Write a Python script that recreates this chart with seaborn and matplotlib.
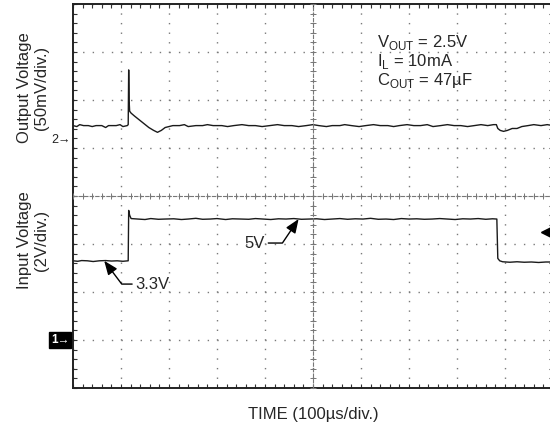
import matplotlib.pyplot as plt
import matplotlib.ticker as mticker
import seaborn as sns
import pandas as pd

# scope settings
vin_scale = 2.0      # V/div
vout_scale = 50.0    # mV/div
ch1_ground = 1.0     # div from bottom
ch2_ground = 5.1667  # div from bottom
trigger_level = 4.5  # V

# input voltage trace (time in us, volts)
vin_t = [0, 10, 18, 30, 42, 55, 68, 80, 92, 104, 115, 116, 118, 121, 135, 150,
         162, 178, 192, 210, 226, 240, 256, 270, 286, 300, 318, 332, 350, 366,
         380, 396, 412, 428, 444, 460, 476, 492, 508, 524, 540, 556, 572, 588,
         604, 620, 636, 652, 668, 684, 700, 716, 732, 748, 764, 780, 796, 812,
         828, 844, 860, 874, 883, 885, 889, 895, 910, 925, 940, 955, 970, 985, 1000]
vin_v = [3.30, 3.28, 3.31, 3.30, 3.27, 3.30, 3.31, 3.29, 3.30, 3.28, 3.30, 5.40,
         5.20, 5.06, 5.04, 5.02, 5.06, 5.03, 5.04, 5.05, 5.02, 5.04, 5.07, 5.03,
         5.04, 5.06, 5.02, 5.05, 5.04, 5.03, 5.06, 5.04, 5.02, 5.05, 5.04, 5.06,
         5.03, 5.04, 5.05, 5.02, 5.04, 5.06, 5.03, 5.05, 5.04, 5.07, 5.03, 5.04,
         5.02, 5.06, 5.04, 5.05, 5.03, 5.04, 5.06, 5.04, 5.02, 5.05, 5.04, 5.06,
         5.03, 5.05, 5.04, 3.40, 3.30, 3.26, 3.24, 3.26, 3.24, 3.25, 3.23, 3.25, 3.25]

# output voltage trace (time in us, mV above ch2 marker)
vout_t = [0, 8, 14, 22, 32, 40, 48, 60, 68, 74, 90, 98, 104, 113, 115, 116, 117,
          118, 121, 128, 138, 148, 158, 168, 176, 184, 192, 200, 208, 222, 232,
          240, 256, 270, 280, 292, 310, 322, 335, 352, 366, 380, 394, 410, 426,
          440, 456, 470, 486, 500, 512, 528, 540, 556, 566, 580, 596, 610, 626,
          640, 656, 668, 680, 696, 710, 724, 738, 750, 766, 780, 794, 808, 822,
          836, 850, 864, 876, 882, 885, 890, 897, 905, 915, 925, 935, 948, 960,
          975, 988, 1000]
vout_mv = [15, 14, 16, 15, 15, 14, 15, 15, 13, 15, 15, 16, 14, 15, 16, 73, 40,
           30, 28, 25, 21, 17, 13, 10, 8, 10, 13, 14, 15, 15, 16, 14, 15, 15, 16,
           15, 15, 14, 15, 16, 15, 15, 14, 15, 16, 15, 15, 14, 15, 16, 15, 14, 15,
           15, 16, 15, 14, 15, 16, 15, 15, 14, 15, 16, 15, 15, 16, 14, 15, 16, 15,
           15, 14, 15, 16, 15, 16, 16, 12, 10, 9, 10, 12, 12, 14, 15, 16, 15, 16, 15]

vin = pd.DataFrame({"t": vin_t, "div": [ch1_ground + v / vin_scale for v in vin_v]})
vout = pd.DataFrame({"t": vout_t, "div": [ch2_ground + m / vout_scale for m in vout_mv]})

sns.set_theme(style="white")
plt.rcParams['font.family'] = ['Liberation Sans', 'DejaVu Sans']
plt.rcParams['mathtext.fontset'] = 'custom'
plt.rcParams['mathtext.rm'] = 'Liberation Sans'

fig = plt.figure(figsize=(5.5, 4.32), dpi=100)
pos = [73 / 550, 44 / 432, 480 / 550, 384 / 432]
ax = fig.add_axes(pos)

sns.lineplot(data=vin, x="t", y="div", sort=False, estimator=None, color="#1a1a1a", lw=1.0, ax=ax)
sns.lineplot(data=vout, x="t", y="div", sort=False, estimator=None, color="#1a1a1a", lw=1.0, ax=ax)

ax.set_xlim(0, 1000)
ax.set_ylim(0, 8)
ax.xaxis.set_major_locator(mticker.MultipleLocator(100))
ax.xaxis.set_minor_locator(mticker.MultipleLocator(20))
ax.yaxis.set_major_locator(mticker.MultipleLocator(1))
ax.yaxis.set_minor_locator(mticker.MultipleLocator(0.2))
ax.tick_params(which="both", direction="in", length=3, width=0.8, color="#333333",
               top=True, right=True, bottom=True, left=True,
               labelbottom=False, labelleft=False)
ax.grid(which="major", color="#7a7a7a", lw=1.0, linestyle=(0, (1, 5.9)))
ax.set_xlabel("")
ax.set_ylabel("")
for s in ax.spines.values():
    s.set_color("#222222")
    s.set_linewidth(1.4)

# centre crosshair with ticks
cx = fig.add_axes(pos, frameon=True)
cx.patch.set_visible(False)
cx.set_xlim(0, 1000)
cx.set_ylim(0, 8)
for k in ["top", "right"]:
    cx.spines[k].set_visible(False)
cx.spines["left"].set_position(("data", 500))
cx.spines["bottom"].set_position(("data", 4))
for k in ["left", "bottom"]:
    cx.spines[k].set_color("#777777")
    cx.spines[k].set_linewidth(0.8)
    cx.spines[k].set_linestyle((0, (3, 2)))
cx.xaxis.set_major_locator(mticker.MultipleLocator(20))
cx.yaxis.set_major_locator(mticker.MultipleLocator(0.2))
cx.tick_params(direction="inout", length=5, width=0.7, color="#777777",
               bottom=True, left=True, top=False, right=False,
               labelbottom=False, labelleft=False)
cx.grid(False)

# channel markers
ax.text(-0.004, ch2_ground, "2\u2192", transform=ax.get_yaxis_transform(),
        ha="right", va="center", fontsize=9, color="#222222")
ax.text(-0.008, ch1_ground, "1\u2192", transform=ax.get_yaxis_transform(),
        ha="right", va="center", fontsize=8.5, color="white", fontweight="bold",
        bbox=dict(boxstyle="square,pad=0.18", fc="black", ec="black"))

# trigger marker
ax.plot([988], [ch1_ground + trigger_level / vin_scale], marker="<", ms=9,
        color="black", clip_on=False)

# level call-outs
arrow = dict(arrowstyle="-|>,head_length=0.7,head_width=0.28", color="black",
             lw=1.0, shrinkA=0, shrinkB=0)
ax.annotate("5V", xy=(470, ch1_ground + 5.04 / vin_scale),
            xytext=(400, ch1_ground + 4.04 / vin_scale),
            ha="right", va="center", fontsize=12,
            arrowprops=dict(arrow, relpos=(1.0, 0.5), connectionstyle="angle,angleA=0,angleB=56,rad=0"))
ax.annotate("3.3V", xy=(65, ch1_ground + 3.30 / vin_scale),
            xytext=(130, ch1_ground + 2.33 / vin_scale),
            ha="left", va="center", fontsize=12,
            arrowprops=dict(arrow, relpos=(0.0, 0.5), connectionstyle="angle,angleA=0,angleB=127,rad=0"))

# conditions
ax.text(633, 7.2, r"V$_{\mathregular{OUT}}$ = 2.5V", fontsize=12, ha="left", va="center")
ax.text(633, 6.8, r"I$_{\mathregular{L}}$ = 10mA", fontsize=12, ha="left", va="center")
ax.text(633, 6.4, "C$_{\\mathregular{OUT}}$ = 47\u00b5F", fontsize=12, ha="left", va="center")

# axis captions
fig.text(33 / 550, 1 - 88 / 432, "Output Voltage\n(50mV/div.)", rotation=90,
         ha="center", va="center", multialignment="center", fontsize=12, linespacing=1.1)
fig.text(33 / 550, 1 - 240 / 432, "Input Voltage\n(2V/div.)", rotation=90,
         ha="center", va="center", multialignment="center", fontsize=12, linespacing=1.1)
fig.text(313 / 550, 1 - 415 / 432, "TIME (100\u00b5s/div.)", ha="center", va="center", fontsize=12)

plt.savefig("out.png", dpi=100)
